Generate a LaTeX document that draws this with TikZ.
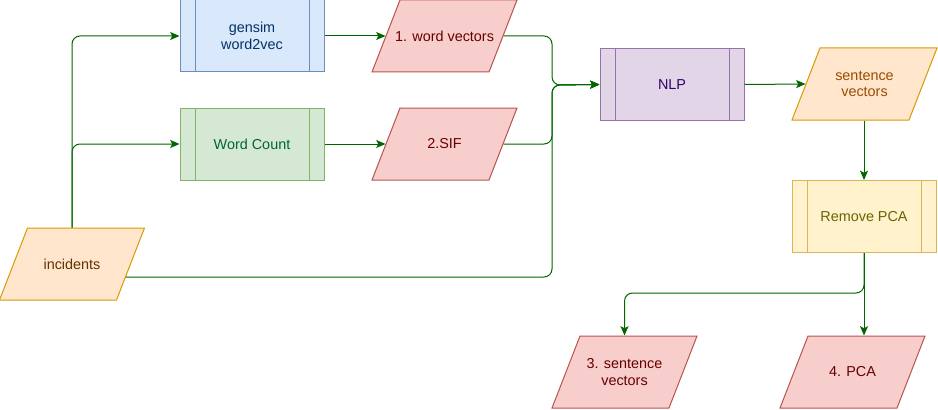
\documentclass[tikz,border=0pt]{standalone}
\usepackage{fontspec}
\setmainfont{Liberation Sans}
\usetikzlibrary{arrows.meta,calc}
\definecolor{bfill}{HTML}{DAE8FC}\definecolor{bdraw}{HTML}{6C8EBF}\definecolor{btext}{HTML}{003366}
\definecolor{gfill}{HTML}{D5E8D4}\definecolor{gdraw}{HTML}{82B366}\definecolor{gtext}{HTML}{006633}
\definecolor{rfill}{HTML}{F8CECC}\definecolor{rdraw}{HTML}{B85450}\definecolor{rtext}{HTML}{660000}
\definecolor{ofill}{HTML}{FFE6CC}\definecolor{odraw}{HTML}{D79B00}\definecolor{otext}{HTML}{663300}
\definecolor{svtext}{HTML}{994C00}
\definecolor{pfill}{HTML}{E1D5E7}\definecolor{pdraw}{HTML}{9673A6}\definecolor{ptext}{HTML}{330066}
\definecolor{yfill}{HTML}{FFF2CC}\definecolor{ydraw}{HTML}{D6B656}\definecolor{ytext}{HTML}{666600}
\definecolor{edge}{HTML}{006600}
\newcommand\iopara[4]{% cx, cy, fill, draw
  \filldraw[fill=#3, draw=#4, line width=0.75pt]
    ({#1-72.5},{#2+36}) -- ({#1+44.5},{#2+36}) -- ({#1+72.5},{#2-36}) -- ({#1-44.5},{#2-36}) -- cycle;}
\tikzset{
  base/.style={line width=0.75pt, font=\fontsize{10.8}{12.5}\selectfont, align=center, inner sep=0pt},
  procbox/.style={base, rectangle, minimum width=108pt, minimum height=54pt,
    path picture={\draw[line width=0.75pt] ([xshift=11.25pt]path picture bounding box.north west) -- ([xshift=11.25pt]path picture bounding box.south west);
                  \draw[line width=0.75pt] ([xshift=-11.25pt]path picture bounding box.north east) -- ([xshift=-11.25pt]path picture bounding box.south east);}},
  iobox/.style={base, rectangle, minimum width=87.75pt, minimum height=54pt},
  conn/.style={draw=edge, line width=0.75pt, rounded corners=6pt, -{Stealth[length=7pt,width=6pt,inset=1.5pt]}}
}
\begin{document}
\begin{tikzpicture}[x=0.75pt,y=-0.75pt]
\useasboundingbox (0,0) rectangle (938,410);
\node[procbox, fill=bfill, draw=bdraw, text=btext] (gensim) at (252,36) {gensim\\word2vec};
\iopara{444.5}{36}{rfill}{rdraw}
\node[iobox, text=rtext] (w1) at (444.5,36) {1. word vectors};
\node[procbox, fill=gfill, draw=gdraw, text=gtext] (wc) at (252,144) {Word Count};
\iopara{444.5}{144}{rfill}{rdraw}
\node[iobox, text=rtext] (sif) at (444.5,144) {2.SIF};
\iopara{72}{264}{ofill}{odraw}
\node[iobox, text=otext] (inc) at (72,264) {incidents};
\node[procbox, fill=pfill, draw=pdraw, text=ptext] (nlp) at (672,84.5) {NLP};
\iopara{864.5}{84}{ofill}{odraw}
\node[iobox, text=svtext] (sv) at (864.5,84) {sentence\\vectors};
\node[procbox, fill=yfill, draw=ydraw, text=ytext] (rp) at (864,216.5) {Remove PCA};
\iopara{624.5}{372}{rfill}{rdraw}
\node[iobox, text=rtext] (sv3) at (624.5,372) {3. sentence\\vectors};
\iopara{852.5}{372}{rfill}{rdraw}
\node[iobox, text=rtext] (pca) at (852.5,372) {4. PCA};
\coordinate (j) at (552,85);
\coordinate (k) at (864,293);
\coordinate (incout) at (125.5,277);
\draw[conn] (inc.north) |- (gensim.west);
\draw[conn] (inc.north) |- (wc.west);
\draw[conn] (gensim.east) -- (w1.west);
\draw[conn] (wc.east) -- (sif.west);
\draw[conn] (w1.east) -| (j) -- (nlp.west);
\draw[conn] (sif.east) -| (j) -- (nlp.west);
\draw[conn] (incout) -| (j) -- (nlp.west);
\draw[conn] (nlp.east) -- (sv.west);
\draw[conn] (rp.north |- sv.south) -- (rp.north);
\draw[conn] (rp.south) -- (rp.south |- pca.north);
\draw[conn] (rp.south) -- (k) -| (sv3.north);
\end{tikzpicture}
\end{document}
